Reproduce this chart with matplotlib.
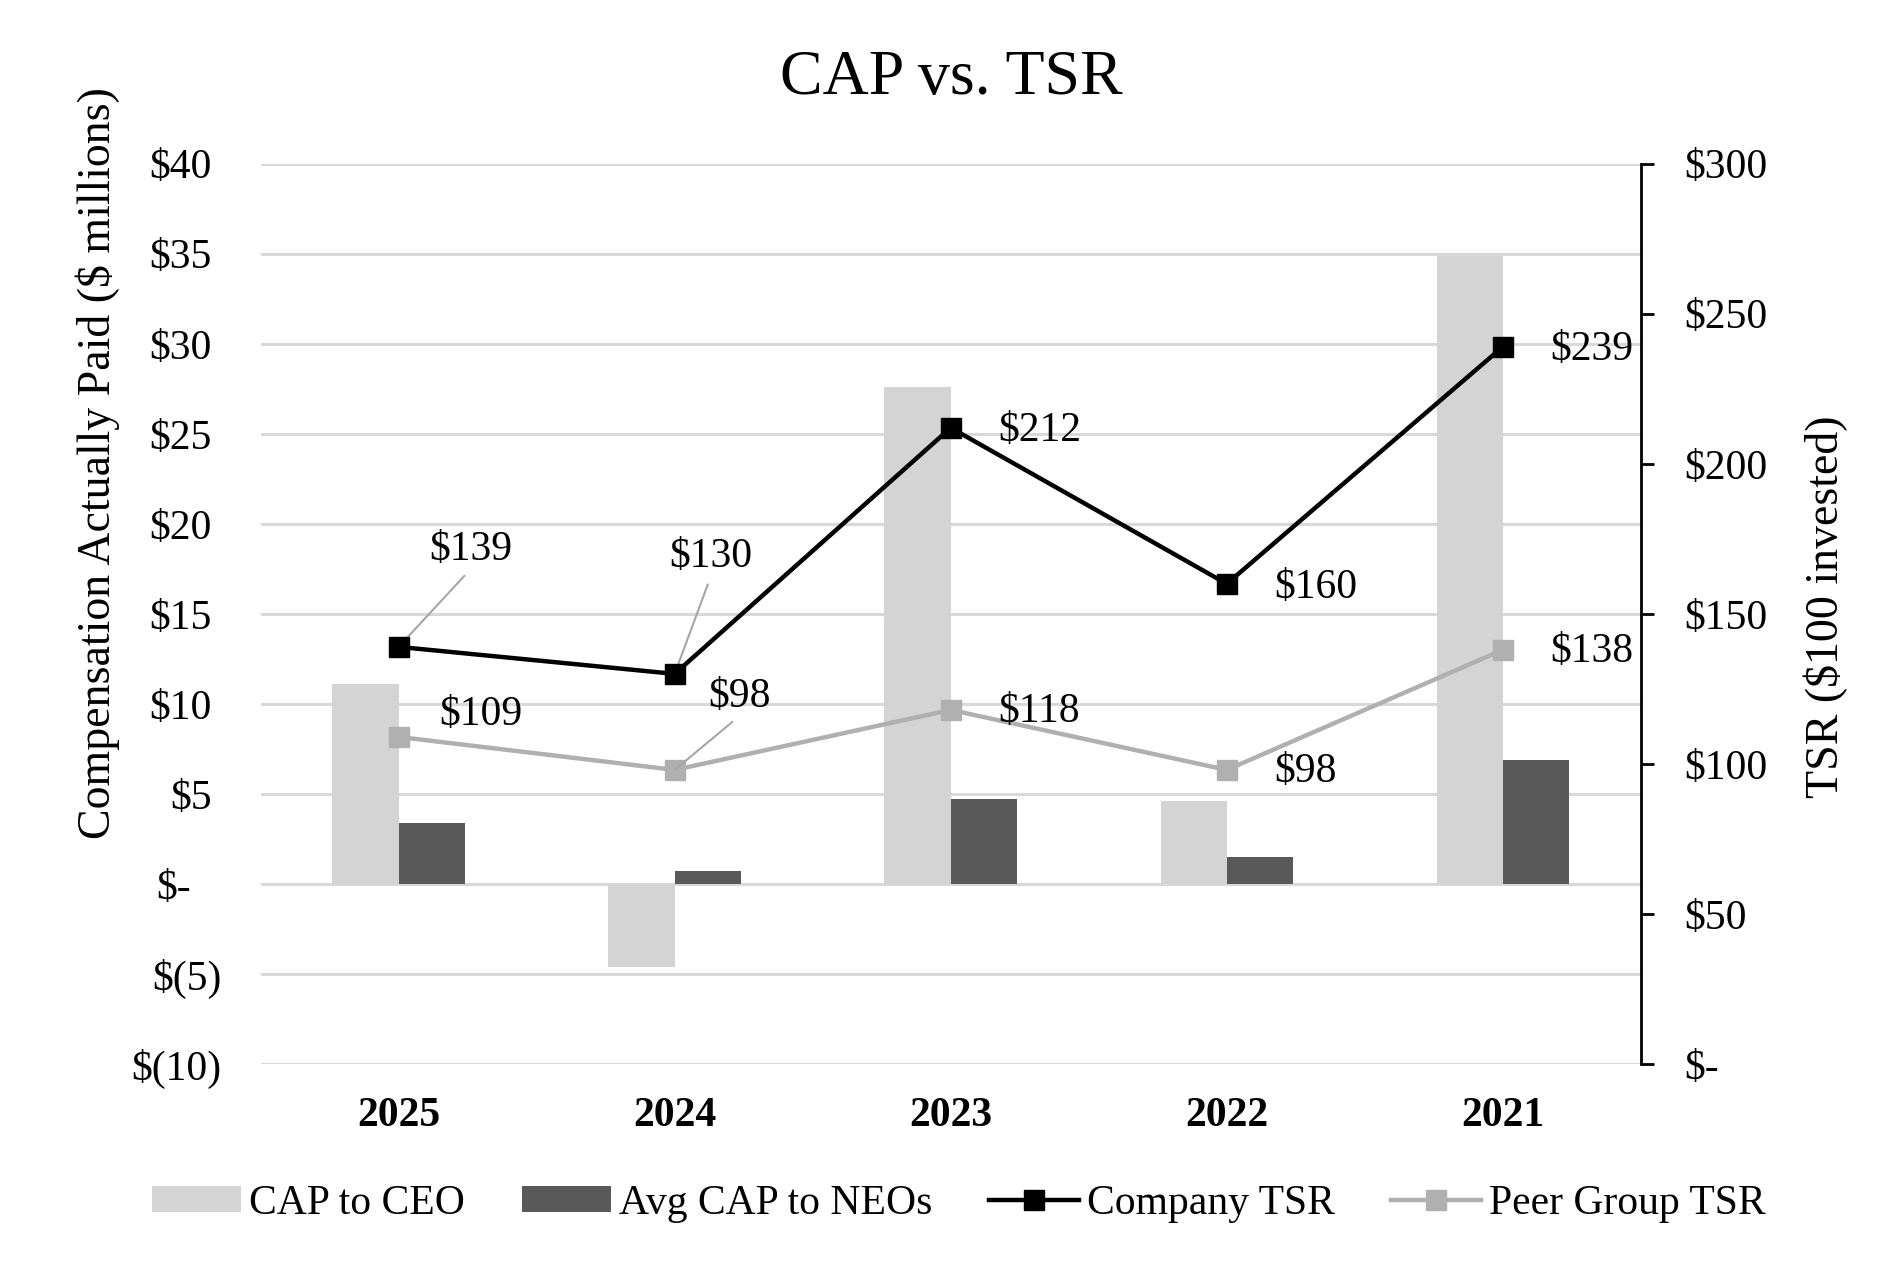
# CAP vs. TSR: bars for compensation actually paid, lines for TSR on a second axis

import matplotlib.pyplot as plt
import matplotlib.ticker as mticker
import matplotlib.transforms as mtransforms
import numpy as np

plt.rcParams['font.family'] = ['Liberation Serif', 'DejaVu Serif']

years = ["2025", "2024", "2023", "2022", "2021"]
cap_ceo = [11.1, -4.6, 27.6, 4.6, 34.9]
cap_neo = [3.4, 0.7, 4.7, 1.5, 6.9]
company_tsr = [139, 130, 212, 160, 239]
peer_tsr = [109, 98, 118, 98, 138]
cap_ticks = list(range(-10, 41, 5))
tsr_ticks = list(range(0, 301, 50))

# label offsets (points) for the TSR values
company_off = [(52, 70), (26, 84), (34, -2), (34, -3), (34, -2)]
peer_off = [(29, 16), (47, 53), (34, -1), (34, -1), (34, -1)]
company_leader = [True, True, False, False, False]
peer_leader = [False, True, False, False, False]

c_ceo = "#d4d4d4"
c_neo = "#595959"
c_comp = "#000000"
c_peer = "#b0b0b0"
c_grid = "#d9d9d9"
c_lead = "#a6a6a6"

fs = 30

fig = plt.figure(figsize=(19.02, 12.64), dpi=100)
ax = fig.add_axes([0.137, 0.1582, 0.7257, 0.7123])
ax2 = ax.twinx()

x = np.arange(len(years))
w = 0.24

ax.bar(x - w/2, cap_ceo, w, color=c_ceo, label="CAP to CEO")
ax.bar(x + w/2, cap_neo, w, color=c_neo, label="Avg CAP to NEOs")

ax.set_ylim(-10, 40)
ax.set_xlim(-0.5, len(years) - 0.5)
ax.set_yticks(cap_ticks)
ax.set_yticklabels([])


def money(v, pos):
    if v == 0:
        return "$-"
    if v < 0:
        return "$(%d)" % abs(v)
    return "$%d" % v


# accounting style left labels: positives and the dash sit left of the ")" column
trans = mtransforms.blended_transform_factory(ax.transAxes, ax.transData)
for v in cap_ticks:
    if v < 0:
        dx = -28
    elif v == 0:
        dx = -50
    else:
        dx = -35
    t = mtransforms.offset_copy(trans, fig=fig, x=dx, y=0, units="points")
    ax.text(0, v, money(v, None), transform=t, ha="right", va="center_baseline",
            fontsize=fs)

ax.grid(axis="y", color=c_grid, linewidth=2.2)
ax.set_axisbelow(True)
for s in ax.spines.values():
    s.set_visible(False)
ax.tick_params(axis="y", length=0)
ax.tick_params(axis="x", length=0, pad=24, labelsize=fs)
ax.set_xticks(x)
ax.set_xticklabels(years, fontweight="bold")
ax.set_ylabel("Compensation Actually Paid ($ millions)", fontsize=33)
ax.yaxis.set_label_coords(-0.102, 0.667)

ax2.plot(x, company_tsr, color=c_comp, linewidth=3.2, marker="s", markersize=15,
         label="Company TSR", zorder=4)
ax2.plot(x, peer_tsr, color=c_peer, linewidth=3.2, marker="s", markersize=15,
         label="Peer Group TSR", zorder=3)
ax2.set_ylim(0, 300)
ax2.set_yticks(tsr_ticks)
ax2.yaxis.set_major_formatter(mticker.FuncFormatter(money))
for k in ["top", "bottom", "left"]:
    ax2.spines[k].set_visible(False)
ax2.spines["right"].set_linewidth(2)
ax2.spines["right"].set_color("black")
ax2.tick_params(axis="y", direction="out", length=9, width=2, pad=22, labelsize=fs)
ax2.set_ylabel("TSR ($100 invested)", fontsize=33)
ax2.yaxis.set_label_coords(1.118, 0.508)


def put_labels(vals, offs, leaders):
    for i, v in enumerate(vals):
        dx, dy = offs[i]
        if leaders[i]:
            ax2.annotate("$%d" % v, (x[i], v), xytext=(dx, dy), textcoords="offset points",
                         ha="center", va="center", fontsize=fs,
                         arrowprops=dict(arrowstyle="-", color=c_lead, lw=1.5,
                                         relpos=(0.5, 0.0), shrinkA=4, shrinkB=0))
        else:
            ax2.annotate("$%d" % v, (x[i], v), xytext=(dx, dy), textcoords="offset points",
                         ha="left", va="center", fontsize=fs)


put_labels(company_tsr, company_off, company_leader)
put_labels(peer_tsr, peer_off, peer_leader)

fig.text(0.5, 0.9375, "CAP vs. TSR", ha="center", va="center", fontsize=46)

h1, l1 = ax.get_legend_handles_labels()
h2, l2 = ax2.get_legend_handles_labels()
fig.legend(h1 + h2, l1 + l2, loc="center", bbox_to_anchor=(0.504, 0.048), ncol=4,
           frameon=False, fontsize=fs, handlelength=2.15, handletextpad=0.2,
           columnspacing=1.35, handleheight=0.6)

fig.savefig("out.png", dpi=100)
